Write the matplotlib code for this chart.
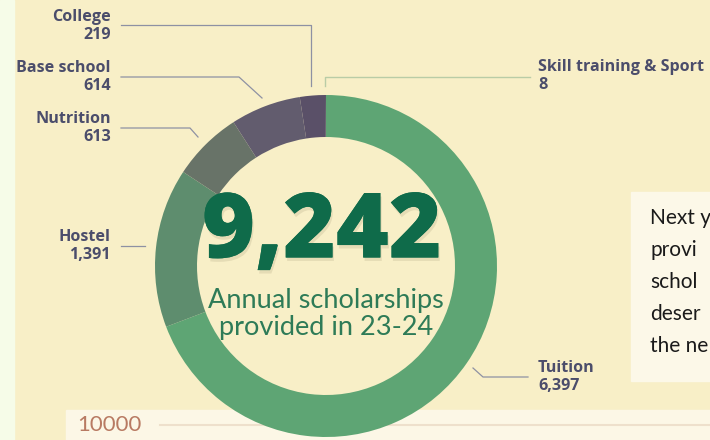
import matplotlib.pyplot as plt
import matplotlib.patheffects as pe
from matplotlib.patches import Rectangle

# scholarship counts, in the order they run clockwise from 12 o'clock
categories = ["Tuition", "Hostel", "Nutrition", "Base school", "College", "Skill training & Sport"]
counts = [6397, 1391, 613, 614, 219, 8]
count_labels = ["6,397", "1,391", "613", "614", "219", "8"]
colors = ["#5ea574", "#5e8d6e", "#687368", "#625c6e", "#5a5068", "#4e4a60"]

total_label = "9,242"
subtitle = "Annual scholarships\nprovided in 23-24"
axis_tick = "10000"
# the note box runs off the right edge; only the visible part is kept
side_note = ["Next y", "provi", "schol", "deser", "the ne"]

W, H = 710, 440
BG = "#f8efc7"
LABEL_C = "#4b4d6b"
LINE_C = "#8e91a3"


def Y(py):
    # pixel rows counted from the top
    return H - py


fig = plt.figure(figsize=(W / 100, H / 100), dpi=100)
fig.patch.set_facecolor(BG)
ax = fig.add_axes([0, 0, 1, 1])

# donut
cx, cy, R = 326, Y(266), 171
ax.pie(counts, colors=colors, startangle=90, counterclock=False,
       center=(cx, cy), radius=R, frame=True,
       wedgeprops=dict(width=42, linewidth=0, zorder=3))
ax.set_xlim(0, W)
ax.set_ylim(0, H)
ax.set_aspect("equal")
ax.axis("off")

# pale strip at the far left
ax.add_patch(Rectangle((0, 0), 14, H, color="#f6fce8", zorder=0))

# bottom band with the faint gridline
ax.add_patch(Rectangle((66, 0), W - 66, Y(410), color="#fcf7e6", zorder=1))
ax.plot([160, W], [Y(425), Y(425)], color="#eee0cc", lw=1.5, zorder=1)
ax.text(77, Y(425), axis_tick, fontsize=16, color="#b87a62", family="Lato",
        va="center", ha="left", zorder=2)

# note box on the right (cut by the edge)
ax.add_patch(Rectangle((631, Y(381)), 120, 189, color="#fcf8e8", zorder=1))
for i, line in enumerate(side_note):
    ax.text(650, Y(218 + i * 32), line, fontsize=15, color="#1a1a1a",
            family="Lato", va="center", ha="left", zorder=2)

# center text
shadow = [pe.withSimplePatchShadow(offset=(1, -2.5), shadow_rgbFace="#6b6040", alpha=0.13),
          pe.Normal()]
ax.text(322, Y(234), total_label, fontsize=65, fontweight="heavy", family="Open Sans",
        color="#0f6b4a", ha="center", va="center", zorder=5, path_effects=shadow)
ax.text(326, Y(314), subtitle, fontsize=19.5, family="Lato", color="#2e7b57",
        ha="center", va="center", linespacing=1.1, zorder=5)

# callout labels
lab = dict(fontsize=11.6, fontweight="bold", family="Open Sans", color=LABEL_C,
           linespacing=1.15, zorder=5)
ax.text(111, Y(26), "College\n219", ha="right", va="center", **lab)
ax.text(111, Y(77), "Base school\n614", ha="right", va="center", **lab)
ax.text(111, Y(128), "Nutrition\n613", ha="right", va="center", **lab)
ax.text(111, Y(246), "Hostel\n1,391", ha="right", va="center", **lab)
ax.text(538, Y(76), "Skill training & Sport\n8", ha="left", va="center", **lab)
ax.text(538, Y(377), "Tuition\n6,397", ha="left", va="center", **lab)

# connector lines
lk = dict(lw=0.9, color=LINE_C, zorder=4)
ax.plot([121, 311, 311], [Y(25), Y(25), Y(86)], **lk)
ax.plot([121, 239, 262], [Y(77), Y(77), Y(98)], **lk)
ax.plot([121, 190, 198], [Y(128), Y(128), Y(137)], **lk)
ax.plot([121, 145], [Y(246), Y(246)], **lk)
ax.plot([325, 325, 530], [Y(86), Y(77), Y(77)], lw=1.0, color="#b9cca6", zorder=4)
ax.plot([473, 483, 528], [Y(368), Y(377), Y(377)], **lk)

fig.savefig("out.png", dpi=100, facecolor=BG)
